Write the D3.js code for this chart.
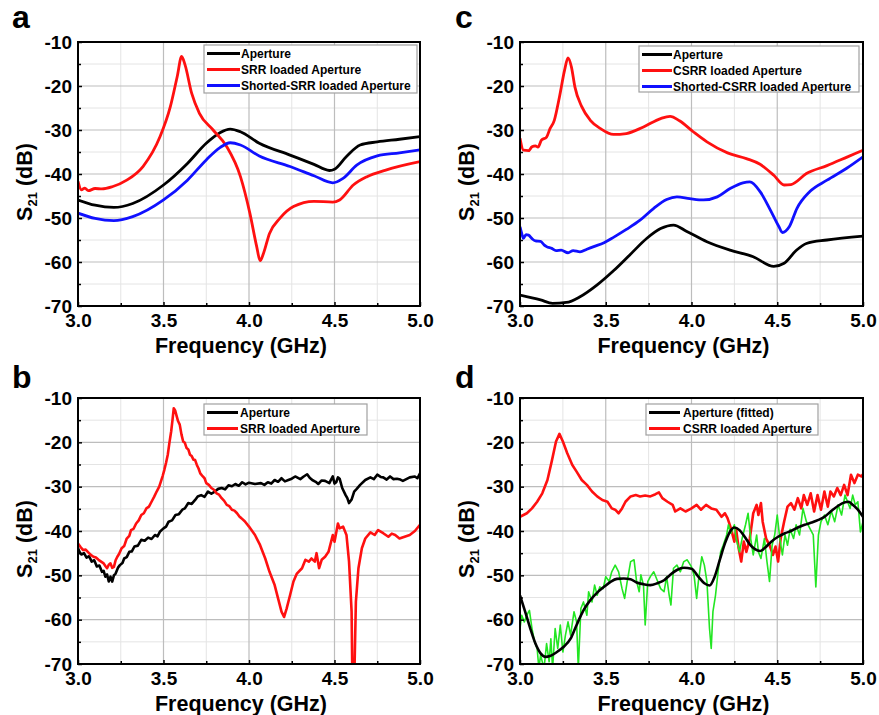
<!DOCTYPE html>
<html>
<head>
<meta charset="utf-8">
<script src="https://cdn.jsdelivr.net/npm/d3@7"></script>
<style>
  body { margin: 0; background: #fff; }
  svg text { font-family: 'Liberation Sans', Arial, Helvetica, sans-serif; font-weight: bold; }
</style>
</head>
<body>
<svg id="chart" width="879" height="715"></svg>
<script>
// tick labels
var xTicks = [3.0, 3.5, 4.0, 4.5, 5.0];
var xMinor = [3.25, 3.75, 4.25, 4.75];
var yTicks = [-10, -20, -30, -40, -50, -60, -70];
var yMinor = [-15, -25, -35, -45, -55, -65];

// panel a  (frequency GHz, S21 dB)
var aAperture = [[3.0,-45.9],[3.1,-47.1],[3.21,-47.6],[3.32,-46.7],[3.5,-42.5],[3.64,-37.6],[3.75,-33],[3.83,-30.6],[3.89,-29.8],[3.95,-30.4],[4.06,-33],[4.24,-35.7],[4.38,-37.8],[4.47,-39.2],[4.5,-38.9],[4.57,-36],[4.65,-33.4],[4.75,-32.7],[4.88,-32.1],[5.0,-31.5]];
var aSRR = [[3.0,-41.7],[3.02,-43.6],[3.04,-43.2],[3.06,-43.8],[3.1,-43.3],[3.14,-43.4],[3.2,-42.9],[3.285,-41.4],[3.38,-38.3],[3.48,-31.5],[3.54,-24.7],[3.58,-17.9],[3.606,-13.3],[3.626,-15.2],[3.665,-21.7],[3.71,-26.2],[3.79,-30],[3.87,-33.8],[3.95,-40.6],[4.005,-48.9],[4.045,-56.5],[4.065,-59.7],[4.085,-58],[4.12,-53.5],[4.18,-50.1],[4.26,-47.4],[4.38,-46.2],[4.49,-46.4],[4.53,-45.9],[4.61,-42.5],[4.69,-40.6],[4.8,-39.1],[5.0,-37.2]];
var aShorted = [[3.0,-48.9],[3.1,-50.1],[3.21,-50.6],[3.32,-49.7],[3.5,-45.9],[3.64,-41.4],[3.75,-36.8],[3.83,-34],[3.89,-32.9],[3.95,-33.4],[4.06,-35.9],[4.24,-38.3],[4.38,-40.4],[4.49,-42],[4.55,-41],[4.63,-38],[4.75,-35.9],[4.88,-35.2],[5.0,-34.5]];

// panel b
var bAperture = [[3.0,-43.9],[3.01,-44.8],[3.02,-45.3],[3.035,-45.0],[3.05,-46],[3.065,-45.7],[3.08,-46.9],[3.095,-46.6],[3.11,-48],[3.125,-47.8],[3.14,-49.2],[3.15,-49.0],[3.16,-50.3],[3.17,-49.8],[3.18,-51.4],[3.19,-50.3],[3.2,-51.4],[3.21,-50.0],[3.22,-49.6],[3.235,-48.2],[3.245,-47.7],[3.26,-47.2],[3.27,-46.2],[3.285,-45.9],[3.3,-44.7],[3.315,-44.6],[3.33,-43.5],[3.35,-43.3],[3.37,-42],[3.39,-42.2],[3.41,-41.5],[3.43,-41.8],[3.45,-40.9],[3.465,-41.2],[3.48,-40.1],[3.5,-39.4],[3.515,-39.0],[3.53,-37.9],[3.55,-37.6],[3.57,-36.4],[3.59,-36.2],[3.61,-35.2],[3.625,-34.9],[3.645,-33.7],[3.665,-33.9],[3.685,-33],[3.7,-32.2],[3.72,-31.9],[3.74,-32.3],[3.76,-31.1],[3.78,-31.6],[3.8,-31.1],[3.82,-30.5],[3.84,-30.3],[3.86,-30.6],[3.88,-29.7],[3.9,-29.9],[3.92,-29.4],[3.94,-29.8],[3.96,-29],[3.98,-29.5],[4.0,-29.1],[4.035,-29.4],[4.07,-29.2],[4.09,-29.6],[4.11,-29],[4.13,-29.3],[4.15,-28.5],[4.17,-28.9],[4.19,-28.1],[4.21,-28.8],[4.23,-28.5],[4.25,-28.2],[4.27,-27.7],[4.3,-28.3],[4.32,-27.7],[4.34,-27.2],[4.355,-28.0],[4.37,-28.5],[4.39,-28.9],[4.405,-29.4],[4.425,-28.6],[4.445,-28.7],[4.47,-29.2],[4.48,-28.4],[4.49,-27.7],[4.5,-29.3],[4.51,-29],[4.52,-27.9],[4.53,-28.2],[4.545,-30.3],[4.565,-31.9],[4.575,-32.6],[4.585,-33.7],[4.6,-32.9],[4.615,-31.1],[4.63,-30.5],[4.65,-29.6],[4.68,-28.5],[4.71,-27.9],[4.73,-28.3],[4.75,-27.3],[4.77,-27.8],[4.785,-27.9],[4.805,-28.4],[4.825,-27.7],[4.845,-28.3],[4.865,-28.2],[4.885,-28.4],[4.9,-28.7],[4.92,-28.3],[4.94,-27.9],[4.97,-27.7],[4.985,-28.1],[5.0,-27]];
var bSRR = [[3.0,-42.8],[3.015,-43.6],[3.03,-44.3],[3.045,-44.2],[3.06,-44.8],[3.075,-45.4],[3.09,-45.8],[3.105,-46.0],[3.12,-46.5],[3.135,-46.9],[3.15,-47.3],[3.16,-47.9],[3.17,-48.4],[3.18,-47.6],[3.19,-47.3],[3.2,-48.3],[3.21,-48.1],[3.22,-46.6],[3.23,-45.8],[3.24,-45.2],[3.255,-43.9],[3.27,-43.4],[3.285,-41.7],[3.3,-41.1],[3.31,-39.8],[3.325,-39.5],[3.34,-38.3],[3.355,-37.6],[3.37,-36.4],[3.385,-36.0],[3.4,-34.9],[3.415,-34.5],[3.43,-33.4],[3.445,-32.3],[3.46,-31.1],[3.475,-30.0],[3.485,-28.8],[3.495,-27.6],[3.505,-26.2],[3.515,-24.6],[3.525,-22.8],[3.535,-20.0],[3.545,-17.5],[3.553,-14.8],[3.56,-12.3],[3.568,-12.8],[3.575,-13.8],[3.585,-15.2],[3.595,-16],[3.605,-18.2],[3.615,-19.8],[3.625,-20.1],[3.635,-21.3],[3.645,-21.6],[3.655,-22.8],[3.665,-23.1],[3.675,-23.9],[3.685,-24.0],[3.695,-25.1],[3.705,-25.9],[3.715,-27],[3.73,-27.7],[3.74,-28.1],[3.75,-29.2],[3.765,-29.6],[3.78,-30.3],[3.795,-30.7],[3.81,-31.5],[3.825,-31.8],[3.84,-32.6],[3.855,-33.2],[3.87,-34.1],[3.885,-34.4],[3.9,-35.2],[3.915,-35.4],[3.93,-36],[3.945,-36.8],[3.955,-37.1],[3.975,-37.8],[4.0,-39],[4.035,-40.9],[4.065,-43.2],[4.095,-46.2],[4.12,-49.2],[4.15,-52.2],[4.17,-55.2],[4.19,-58.2],[4.205,-59.4],[4.22,-57.5],[4.24,-54.5],[4.26,-51.4],[4.28,-49.6],[4.31,-48.4],[4.33,-46.5],[4.35,-46.9],[4.365,-46.2],[4.385,-46.9],[4.395,-45],[4.41,-48.4],[4.425,-46.5],[4.445,-45.8],[4.465,-44.7],[4.49,-40.9],[4.5,-42.4],[4.52,-38.3],[4.53,-39.4],[4.55,-39],[4.57,-40.9],[4.585,-46.9],[4.6,-58.2],[4.605,-75],[4.615,-75],[4.625,-56],[4.64,-48.4],[4.66,-43.9],[4.68,-41.7],[4.71,-40.3],[4.735,-40.9],[4.755,-39.8],[4.785,-40.5],[4.815,-41.3],[4.835,-40.6],[4.855,-40.9],[4.88,-41.7],[4.91,-41.3],[4.94,-40.9],[4.97,-40],[5.0,-38.6]];

// panel c
var cAperture = [[3.0,-67.5],[3.12,-68.6],[3.19,-69.4],[3.27,-69.2],[3.35,-67.9],[3.45,-65.2],[3.545,-62],[3.64,-58.4],[3.74,-54.6],[3.82,-52.4],[3.895,-51.6],[3.97,-53],[4.09,-55.4],[4.225,-57.3],[4.36,-58.8],[4.48,-61],[4.54,-60.3],[4.61,-57.4],[4.67,-55.8],[4.79,-55],[5.0,-54.1]];
var cCSRR = [[3.0,-31.9],[3.02,-34.6],[3.05,-34.7],[3.07,-33.8],[3.09,-33.6],[3.105,-33.9],[3.125,-32.3],[3.155,-31.6],[3.175,-29.7],[3.2,-27.8],[3.23,-22.5],[3.26,-16.4],[3.28,-13.6],[3.3,-15.7],[3.32,-20.2],[3.36,-24.7],[3.41,-27.8],[3.47,-29.7],[3.545,-31],[3.62,-30.8],[3.72,-29.3],[3.82,-27.4],[3.875,-26.9],[3.93,-27.9],[4.01,-30.4],[4.09,-32.7],[4.21,-35.2],[4.32,-36.5],[4.4,-37.8],[4.48,-40.3],[4.54,-42.5],[4.58,-42.4],[4.67,-39.9],[4.79,-38.1],[4.91,-36.1],[5.0,-34.6]];
var cShorted = [[3.0,-52],[3.01,-53.5],[3.02,-54.6],[3.035,-53.8],[3.05,-53.9],[3.07,-54.7],[3.09,-55.2],[3.12,-55.3],[3.14,-56.1],[3.155,-56.5],[3.185,-56.9],[3.21,-57.4],[3.24,-57.3],[3.28,-57.9],[3.31,-57.4],[3.35,-57.7],[3.39,-57.1],[3.43,-56.5],[3.49,-55.6],[3.545,-54.4],[3.62,-52.6],[3.7,-50.5],[3.78,-47.8],[3.855,-45.8],[3.915,-45.2],[3.99,-45.6],[4.07,-45.9],[4.15,-45.2],[4.225,-43.3],[4.3,-42],[4.34,-41.8],[4.4,-44],[4.46,-48.2],[4.51,-52],[4.53,-53.3],[4.57,-52],[4.615,-47.8],[4.69,-44],[4.79,-41.4],[4.905,-38.7],[5.0,-36.1]];

// panel d
var dFitted = [[3.0,-54.5],[3.03,-58.2],[3.06,-62],[3.09,-65.4],[3.12,-67.6],[3.15,-68.4],[3.175,-68.2],[3.215,-67.3],[3.255,-66.1],[3.295,-64.3],[3.33,-61.2],[3.37,-57.9],[3.41,-55.6],[3.45,-53.9],[3.49,-52.6],[3.53,-51.4],[3.565,-50.8],[3.605,-50.7],[3.645,-50.9],[3.68,-51.6],[3.72,-52],[3.76,-52.2],[3.8,-51.8],[3.84,-51.1],[3.875,-49.9],[3.915,-48.8],[3.955,-48.3],[4.0,-48.5],[4.04,-50.3],[4.075,-51.8],[4.105,-52.3],[4.135,-50.3],[4.165,-46.5],[4.195,-42.8],[4.225,-40.1],[4.25,-39.2],[4.28,-39.8],[4.31,-41.3],[4.34,-43],[4.37,-44.1],[4.4,-44.5],[4.425,-43.9],[4.465,-42.4],[4.505,-41.3],[4.545,-40.5],[4.58,-40],[4.62,-39.2],[4.66,-38.6],[4.7,-38.1],[4.74,-37.5],[4.775,-36.8],[4.815,-35.5],[4.855,-34.3],[4.895,-33.5],[4.915,-33.4],[4.94,-34.1],[4.97,-35.2],[5.0,-36.8]];
var dCSRR = [[3.0,-36.8],[3.04,-36],[3.07,-34.9],[3.1,-33.4],[3.13,-31.5],[3.16,-28.5],[3.185,-24.3],[3.21,-19.8],[3.23,-18.1],[3.25,-19.8],[3.275,-22.4],[3.305,-25.1],[3.33,-26.6],[3.36,-28.5],[3.39,-29.6],[3.42,-31.1],[3.45,-32.2],[3.48,-33],[3.51,-33.4],[3.535,-34.9],[3.555,-35.2],[3.575,-36],[3.595,-34.9],[3.615,-33.4],[3.645,-32.2],[3.675,-31.9],[3.7,-32.2],[3.73,-32],[3.76,-32.2],[3.79,-31.7],[3.81,-31.3],[3.83,-32.6],[3.86,-33.4],[3.89,-34.1],[3.905,-35.6],[3.935,-34.9],[3.965,-35.6],[4.0,-34.9],[4.03,-34.1],[4.055,-35.2],[4.085,-34.1],[4.115,-34.9],[4.145,-35.2],[4.175,-36.8],[4.195,-36],[4.21,-37.1],[4.23,-39.4],[4.25,-42.4],[4.26,-39.6],[4.275,-43.9],[4.29,-46.9],[4.305,-42.4],[4.32,-44.7],[4.34,-41.7],[4.36,-36],[4.38,-34.1],[4.39,-36.4],[4.405,-33.7],[4.415,-37.9],[4.435,-41.7],[4.455,-43.2],[4.475,-45.4],[4.49,-43.5],[4.505,-46.9],[4.52,-41.7],[4.54,-37.9],[4.56,-34.5],[4.58,-33.7],[4.6,-35.2],[4.62,-32.6],[4.64,-34.9],[4.655,-31.9],[4.675,-34.1],[4.695,-31.5],[4.715,-35.6],[4.735,-31.9],[4.755,-35.2],[4.775,-31.1],[4.795,-34.5],[4.81,-31.1],[4.83,-32.2],[4.85,-30.3],[4.87,-31.9],[4.89,-29.6],[4.91,-31.9],[4.93,-27.3],[4.95,-29.2],[4.97,-27.3],[4.99,-27.7],[5.0,-27.2]];
var dMeasured = [[3.0,-62],[3.01,-59],[3.025,-60.5],[3.04,-59],[3.055,-57.9],[3.07,-62],[3.085,-65],[3.1,-66.5],[3.11,-71],[3.12,-68],[3.14,-71],[3.155,-65.4],[3.17,-69.5],[3.18,-64.3],[3.19,-71],[3.205,-62],[3.22,-66.5],[3.235,-61.2],[3.25,-67.3],[3.265,-63.5],[3.28,-60.5],[3.295,-63.5],[3.315,-58.2],[3.33,-60.5],[3.34,-71],[3.355,-57.5],[3.37,-56],[3.39,-59],[3.4,-53.7],[3.42,-56],[3.435,-52.2],[3.45,-54.5],[3.465,-52.6],[3.485,-53],[3.5,-50.3],[3.52,-51.4],[3.535,-49.2],[3.555,-47.7],[3.575,-49.2],[3.595,-53],[3.61,-55.2],[3.625,-51.4],[3.645,-46.9],[3.665,-46.5],[3.68,-51.4],[3.695,-53.7],[3.705,-49.9],[3.72,-52.2],[3.73,-61.2],[3.745,-51.4],[3.76,-50.3],[3.78,-49.2],[3.8,-51.1],[3.82,-53],[3.84,-53.7],[3.855,-50.3],[3.87,-54.5],[3.88,-56.7],[3.895,-48.4],[3.915,-47.7],[3.935,-49.2],[3.955,-46.9],[3.975,-46.5],[4.0,-48.1],[4.015,-50],[4.03,-55.2],[4.04,-51.4],[4.06,-45.8],[4.075,-47.7],[4.09,-51.4],[4.105,-62],[4.115,-66.5],[4.125,-58.2],[4.14,-54.5],[4.155,-49.2],[4.17,-44.7],[4.185,-43.2],[4.205,-40.9],[4.215,-38.6],[4.23,-40.5],[4.25,-38.6],[4.26,-41.7],[4.28,-44.7],[4.295,-41.7],[4.315,-38.6],[4.33,-36],[4.345,-41.7],[4.36,-45.4],[4.38,-40.9],[4.39,-44.7],[4.405,-46.2],[4.425,-41.7],[4.44,-46.9],[4.455,-51.4],[4.47,-43.2],[4.485,-40.9],[4.5,-36.4],[4.515,-41.7],[4.53,-45.4],[4.545,-40.9],[4.56,-43.2],[4.575,-39.6],[4.595,-41.7],[4.61,-38.6],[4.63,-40.9],[4.65,-34.9],[4.67,-37.9],[4.69,-39.4],[4.71,-40.9],[4.725,-52.6],[4.74,-40.9],[4.755,-37.9],[4.775,-36.4],[4.795,-38.6],[4.815,-35.5],[4.835,-37.9],[4.855,-34.1],[4.875,-36.4],[4.895,-31.9],[4.91,-33.4],[4.925,-34.9],[4.94,-31.9],[4.955,-34.1],[4.97,-33.4],[4.985,-40.2],[5.0,-37.9]];

var BLACK = "#000", RED = "#ff1010", BLUE = "#1010ff", GREEN = "#22e622";

var panels = [
  { id: "a", box: [78, 420, 42, 306], letter: [12, 28], legend: [204, 45, 213, 48, 3, 36, 37],
    series: [
      { name: "Aperture", data: aAperture, color: BLACK, w: 2.8, smooth: true },
      { name: "SRR loaded Aperture", data: aSRR, color: RED, w: 2.8, smooth: true },
      { name: "Shorted-SRR loaded Aperture", data: aShorted, color: BLUE, w: 2.8, smooth: true }
    ] },
  { id: "c", box: [520, 863, 42, 306], letter: [455, 28], legend: [639, 46, 220, 46, 3, 33, 34],
    series: [
      { name: "Aperture", data: cAperture, color: BLACK, w: 2.8, smooth: true },
      { name: "CSRR loaded Aperture", data: cCSRR, color: RED, w: 2.8, smooth: true },
      { name: "Shorted-CSRR loaded Aperture", data: cShorted, color: BLUE, w: 2.8, smooth: true }
    ] },
  { id: "b", box: [78, 420, 398, 664], letter: [12, 388], legend: [204, 404, 163, 31, 3, 34, 36],
    series: [
      { name: "Aperture", data: bAperture, color: BLACK, w: 2.6, smooth: false },
      { name: "SRR loaded Aperture", data: bSRR, color: RED, w: 2.6, smooth: false }
    ] },
  { id: "d", box: [520, 863, 398, 664], letter: [455, 388], legend: [646, 404, 172, 31, 3, 34, 37],
    series: [
      { name: "CSRR loaded Aperture", data: dCSRR, color: RED, w: 2.6, smooth: false, legendRow: 1 },
      { name: "measured", data: dMeasured, color: GREEN, w: 1.6, smooth: false, noLegend: true },
      { name: "Aperture (fitted)", data: dFitted, color: BLACK, w: 2.6, smooth: true, legendRow: 0 }
    ] }
];

var svg = d3.select("#chart");

panels.forEach(function(p) {
  var L = p.box[0], R = p.box[1], T = p.box[2], B = p.box[3];
  var x = d3.scaleLinear().domain([3, 5]).range([L, R]);
  var y = d3.scaleLinear().domain([-70, -10]).range([B, T]);
  var g = svg.append("g");

  // grid
  var grid = g.append("g");
  grid.selectAll(".mx").data(xMinor).enter().append("line")
    .attr("x1", x).attr("x2", x).attr("y1", T).attr("y2", B)
    .attr("stroke", "#e4e4e4").attr("stroke-width", 1);
  grid.selectAll(".my").data(yMinor).enter().append("line")
    .attr("x1", L).attr("x2", R).attr("y1", y).attr("y2", y)
    .attr("stroke", "#e4e4e4").attr("stroke-width", 1);
  grid.selectAll(".gx").data(xTicks.slice(1, -1)).enter().append("line")
    .attr("x1", x).attr("x2", x).attr("y1", T).attr("y2", B)
    .attr("stroke", "#bdbdbd").attr("stroke-width", 1.2);
  grid.selectAll(".gy").data(yTicks.slice(1, -1)).enter().append("line")
    .attr("x1", L).attr("x2", R).attr("y1", y).attr("y2", y)
    .attr("stroke", "#bdbdbd").attr("stroke-width", 1.2);

  // curves
  var clipId = "clip-" + p.id;
  svg.append("clipPath").attr("id", clipId).append("rect")
    .attr("x", L).attr("y", T).attr("width", R - L).attr("height", B - T);
  var lines = g.append("g").attr("clip-path", "url(#" + clipId + ")");
  p.series.forEach(function(s) {
    var line = d3.line()
      .x(function(d) { return x(d[0]); })
      .y(function(d) { return y(d[1]); })
      .curve(s.smooth ? d3.curveMonotoneX : d3.curveLinear);
    lines.append("path").datum(s.data)
      .attr("d", line)
      .attr("fill", "none")
      .attr("stroke", s.color)
      .attr("stroke-width", s.w)
      .attr("stroke-linejoin", "round");
  });

  // axes
  var fmtX = function(d) { return d.toFixed(1); };
  var fmtY = function(d) { return String(d); };
  var xAxis = g.append("g").attr("transform", "translate(0," + B + ")")
    .call(d3.axisBottom(x).tickValues(xTicks).tickFormat(fmtX).tickSizeInner(-4).tickSizeOuter(0).tickPadding(8));
  var yAxis = g.append("g").attr("transform", "translate(" + L + ",0)")
    .call(d3.axisLeft(y).tickValues(yTicks).tickFormat(fmtY).tickSizeInner(-4).tickSizeOuter(0).tickPadding(6));
  g.append("g").attr("transform", "translate(0," + B + ")")
    .call(d3.axisBottom(x).tickValues(xMinor).tickFormat("").tickSizeInner(-3).tickSizeOuter(0));
  g.append("g").attr("transform", "translate(" + L + ",0)")
    .call(d3.axisLeft(y).tickValues(yMinor).tickFormat("").tickSizeInner(-3).tickSizeOuter(0));
  g.selectAll(".domain").remove();
  g.selectAll(".tick line").attr("stroke", "#000").attr("stroke-width", 1.5);
  xAxis.selectAll("text").attr("font-size", 19).attr("fill", "#000")
    .attr("font-family", "'Liberation Sans', Arial, sans-serif").attr("font-weight", "bold");
  yAxis.selectAll("text").attr("font-size", 19).attr("fill", "#000")
    .attr("font-family", "'Liberation Sans', Arial, sans-serif").attr("font-weight", "bold");

  // frame
  g.append("rect").attr("x", L).attr("y", T).attr("width", R - L).attr("height", B - T)
    .attr("fill", "none").attr("stroke", "#000").attr("stroke-width", 2);

  // axis titles
  g.append("text").attr("x", (L + R) / 2 - 8).attr("y", B + 47)
    .attr("text-anchor", "middle").attr("font-size", 21.5).text("Frequency (GHz)");
  var yt = g.append("text")
    .attr("transform", "translate(" + (L - 46) + "," + ((T + B) / 2 + 8) + ") rotate(-90)")
    .attr("text-anchor", "middle").attr("font-size", 21.5);
  yt.append("tspan").text("S");
  yt.append("tspan").attr("font-size", 13).attr("dy", 5).text("21");
  yt.append("tspan").attr("dy", -5).text(" (dB)");

  // panel letter
  g.append("text").attr("x", p.letter[0]).attr("y", p.letter[1])
    .attr("font-size", 32).text(p.id);

  // legend
  var lg = p.legend;
  var leg = g.append("g");
  leg.append("rect").attr("x", lg[0]).attr("y", lg[1]).attr("width", lg[2]).attr("height", lg[3])
    .attr("fill", "#fff").attr("stroke", "#a0a0a0").attr("stroke-width", 1.2);
  var items = p.series.filter(function(s) { return !s.noLegend; });
  items.sort(function(a, b) {
    var ra = a.legendRow != null ? a.legendRow : p.series.indexOf(a);
    var rb = b.legendRow != null ? b.legendRow : p.series.indexOf(b);
    return ra - rb;
  });
  items.forEach(function(s, i) {
    var cy = lg[1] + 8.5 + i * 16;
    leg.append("line").attr("x1", lg[0] + lg[4]).attr("x2", lg[0] + lg[5])
      .attr("y1", cy).attr("y2", cy).attr("stroke", s.color).attr("stroke-width", 3);
    leg.append("text").attr("x", lg[0] + lg[6]).attr("y", cy + 4.3)
      .attr("font-size", 12).text(s.name);
  });
});
</script>
</body>
</html>
